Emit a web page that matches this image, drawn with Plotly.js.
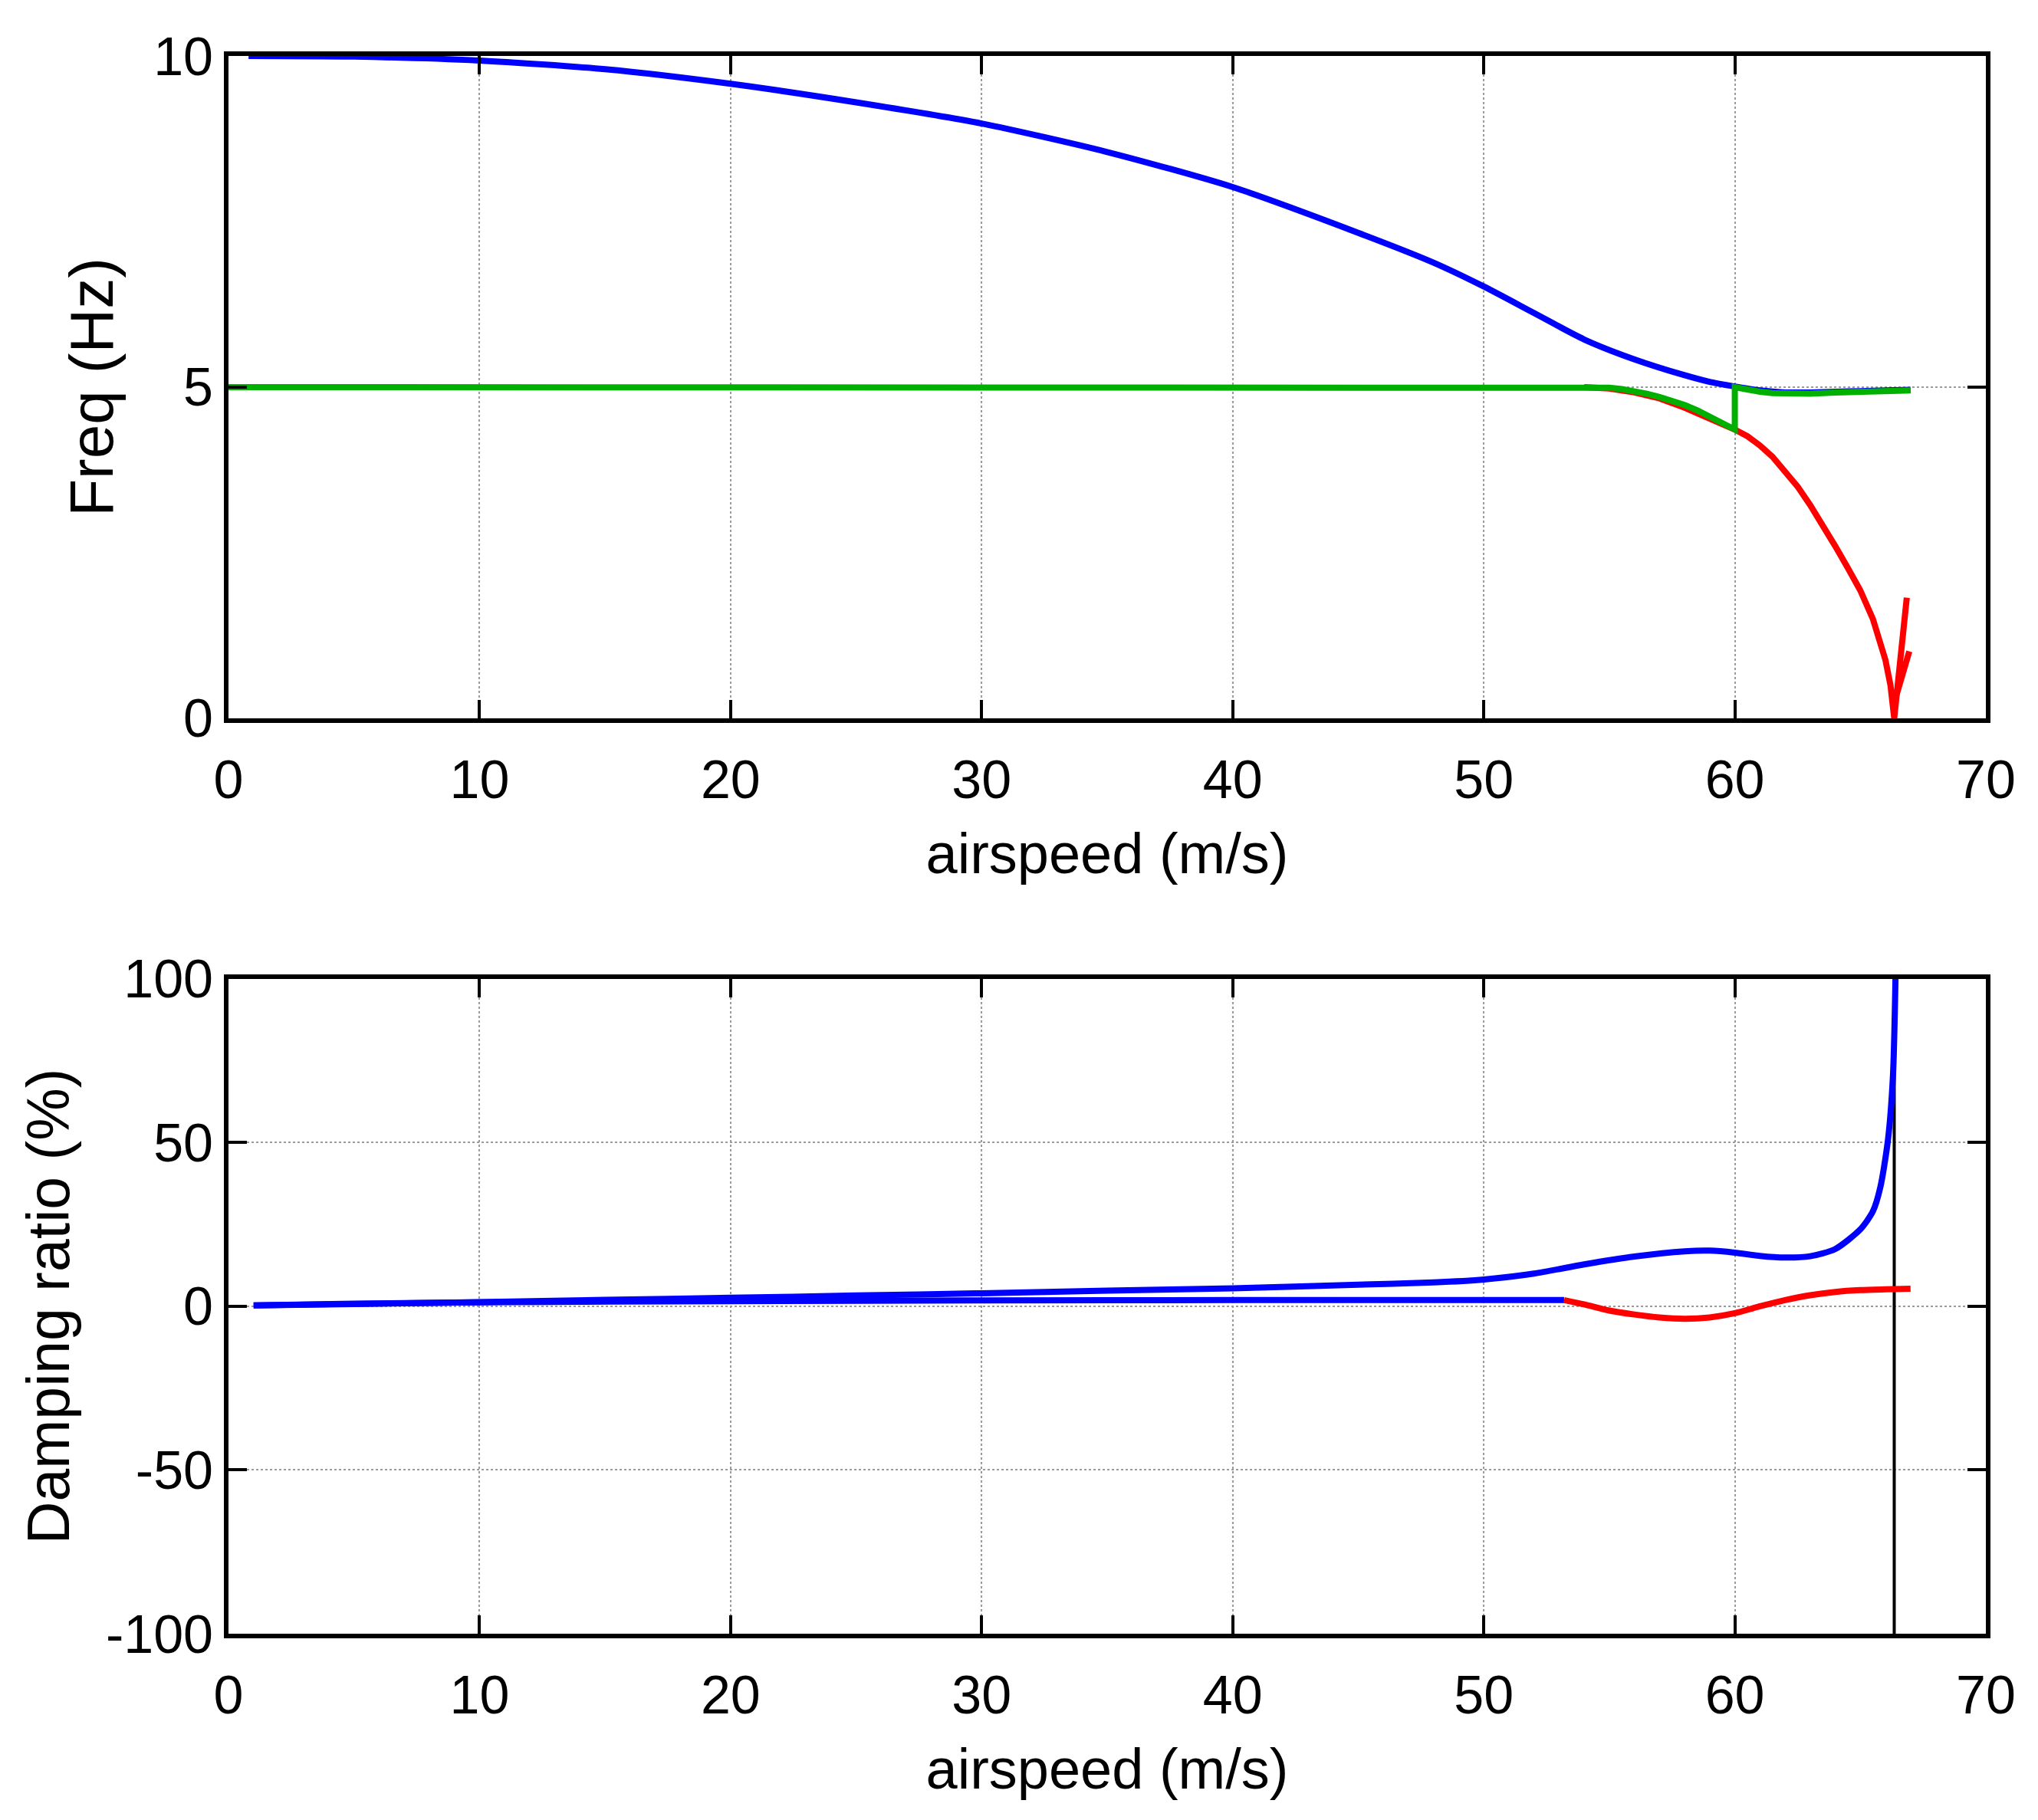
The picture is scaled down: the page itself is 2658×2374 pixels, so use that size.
<!DOCTYPE html>
<html>
<head>
<meta charset="utf-8">
<script src="https://cdn.plot.ly/plotly-3.0.1.min.js"></script>
<style>
  html, body { margin: 0; padding: 0; background: #fff; }
  #chart { width: 2658px; height: 2374px; }
</style>
</head>
<body>
<div id="chart"></div>
<script>
// ---- frequency (Hz) vs airspeed ----
const freqBlueX = [0.8, 5, 10, 15, 20, 25, 30, 35, 40, 45, 48, 50, 52, 54, 56, 58, 59, 60, 61, 62, 63, 64, 65, 66, 67];
const freqBlueY = [10.0, 9.99, 9.93, 9.8, 9.58, 9.3, 8.98, 8.55, 8.02, 7.33, 6.88, 6.52, 6.12, 5.72, 5.42, 5.18, 5.08, 5.01, 4.95, 4.92, 4.92, 4.93, 4.94, 4.95, 4.96];

const freqRedX = [54, 55, 56, 57, 58, 59, 60, 60.5, 61, 61.5, 62, 62.5, 63, 63.5, 64, 64.5, 65, 65.5, 65.8, 66, 66.2, 66.35, 66.85, null, 66.44, 66.95];
const freqRedY = [5.0, 4.98, 4.92, 4.83, 4.69, 4.53, 4.36, 4.26, 4.12, 3.95, 3.74, 3.5, 3.22, 2.92, 2.6, 2.27, 1.93, 1.5, 1.15, 0.88, 0.5, 0, 1.82, null, 0.35, 1.01];

const freqGreenX = [0, 10, 20, 30, 40, 50, 54, 54.5, 55, 55.5, 56, 56.5, 57, 57.5, 58, 58.5, 59, 59.5, 60, 60, 60.5, 61, 61.5, 62, 62.5, 63, 64, 65, 66, 67];
const freqGreenY = [5, 5, 5, 5, 5, 5, 5, 5.0, 4.99, 4.97, 4.94, 4.9, 4.85, 4.8, 4.73, 4.65, 4.56, 4.46, 4.36, 5.0, 4.96, 4.93, 4.91, 4.9, 4.9, 4.9, 4.92, 4.93, 4.94, 4.95];

// ---- damping ratio (%) vs airspeed ----
const dampBlueX = [1, 5, 10, 15, 20, 25, 30, 35, 40, 45, 48, 50, 52, 54, 56, 58, 59, 60, 61, 62, 63, 64, 65, 65.5, 65.8, 66.1, 66.3, 66.4];
const dampBlueY = [0.3, 0.7, 1.3, 2.0, 2.6, 3.3, 4.0, 4.8, 5.5, 6.6, 7.3, 8.2, 10.0, 12.8, 15.2, 16.8, 17.0, 16.4, 15.4, 14.9, 15.3, 17.5, 23.5, 29, 36.5, 50.8, 70.5, 100];

const dampBlueLowX = [1, 5, 10, 20, 30, 40, 53.2];
const dampBlueLowY = [0.3, 0.8, 1.2, 1.6, 1.8, 1.9, 1.9];

const dampRedX = [53.2, 54, 55, 56, 57, 58, 59, 60, 61, 62, 63, 64, 65, 66, 67];
const dampRedY = [1.9, 0.6, -1.3, -2.5, -3.4, -3.8, -3.4, -2.1, 0.0, 1.9, 3.4, 4.4, 4.95, 5.2, 5.4];

const dampLimitX = [66.35, 66.35];
const dampLimitY = [-100, 100];

const xTicks = [0, 10, 20, 30, 40, 50, 60, 70];
const freqTicks = [0, 5, 10];
const dampTicks = [-100, -50, 0, 50, 100];
const dampTickText = ['-100', '-50', '0', '50', '100'];

const W = 2658, H = 2374;
const FONT = 'Liberation Sans, Arial, Helvetica, sans-serif';
const BLUE = '#0000ff', RED = '#ff0000', GREEN = '#00b000';

function line(x, y, color, xa, ya, opts) {
  opts = opts || {};
  return {
    x: x, y: y, xaxis: xa, yaxis: ya, type: 'scatter', mode: 'lines',
    line: { color: color, width: opts.width || 8, shape: opts.shape || 'linear', smoothing: 0.7 },
    connectgaps: false, hoverinfo: 'skip', showlegend: false
  };
}

const traces = [
  line(freqBlueX, freqBlueY, BLUE, 'x', 'y', { shape: 'spline' }),
  line(freqRedX, freqRedY, RED, 'x', 'y'),
  line(freqGreenX, freqGreenY, GREEN, 'x', 'y'),
  line(dampLimitX, dampLimitY, '#000', 'x2', 'y2', { width: 4 }),
  line(dampBlueX, dampBlueY, BLUE, 'x2', 'y2', { shape: 'spline' }),
  line(dampBlueLowX, dampBlueLowY, BLUE, 'x2', 'y2', { shape: 'spline' }),
  line(dampRedX, dampRedY, RED, 'x2', 'y2', { shape: 'spline' })
];

function axisBase() {
  return {
    showline: true, linecolor: '#000', linewidth: 6, mirror: 'ticks',
    ticks: 'inside', ticklen: 24, tickwidth: 4, tickcolor: '#000',
    showgrid: true, gridcolor: '#9a9a9a', gridwidth: 2, griddash: 'dot',
    zeroline: false,
    tickfont: { family: FONT, size: 70, color: '#000' }
  };
}

function xAxis(anchor) {
  return Object.assign(axisBase(), {
    anchor: anchor, range: [0, 70], tickvals: xTicks,
    domain: [0, 1], ticklabelstandoff: 14,
    title: { text: 'airspeed (m/s)', font: { family: FONT, size: 74, color: '#000' }, standoff: 34 }
  });
}

const layout = {
  width: W, height: H,
  paper_bgcolor: '#fff', plot_bgcolor: '#fff',
  margin: { l: 298, r: 68, t: 73, b: 243 },
  showlegend: false,
  xaxis: xAxis('y'),
  yaxis: Object.assign(axisBase(), {
    anchor: 'x', range: [0, 10], tickvals: freqTicks,
    domain: [0.5802, 1],
    title: { text: 'Freq (Hz)', font: { family: FONT, size: 80, color: '#000' }, standoff: 28 }
  }),
  xaxis2: xAxis('y2'),
  yaxis2: Object.assign(axisBase(), {
    anchor: 'x2', range: [-100, 100], tickvals: dampTicks, ticktext: dampTickText,
    domain: [0, 0.415],
    title: { text: 'Damping ratio (%)', font: { family: FONT, size: 77, color: '#000' }, standoff: 24 }
  })
};

Plotly.newPlot('chart', traces, layout, { staticPlot: true, displayModeBar: false });
</script>
</body>
</html>
